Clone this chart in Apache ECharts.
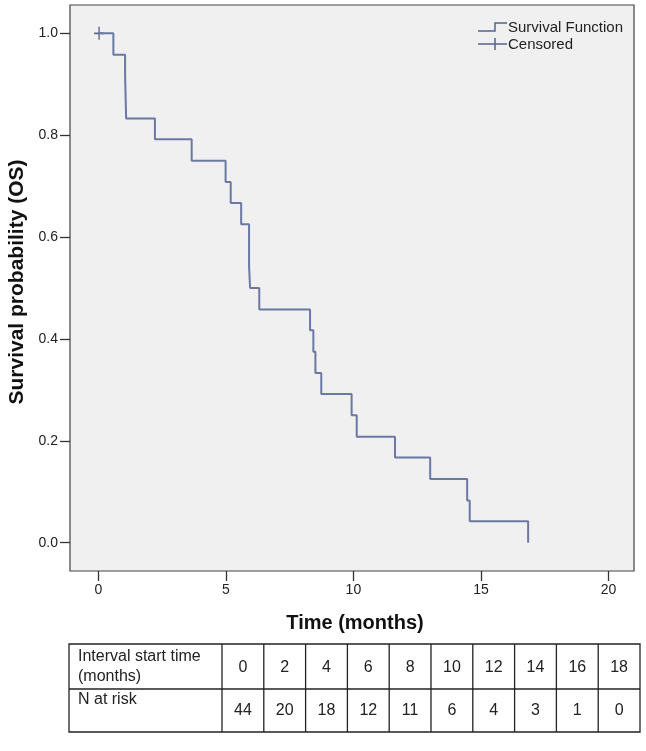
<!DOCTYPE html>
<html>
<head>
<meta charset="utf-8">
<script src="https://cdn.jsdelivr.net/npm/echarts@6/dist/echarts.min.js"></script>
<style>
html,body{margin:0;padding:0;background:#fff;}
#c{width:646px;height:751px;}
</style>
</head>
<body>
<div id="c"></div>
<script>
// Kaplan-Meier step points: event times (months) and survival after each event
const eventTimes = [0, 0.59, 1.05, 1.09, 2.22, 3.66, 4.99, 5.19, 5.60, 5.91, 5.95, 6.31, 8.30, 8.43, 8.51, 8.74, 9.93, 10.13, 11.63, 13.01, 14.46, 14.56, 16.85];
const survival   = [1.0, 0.958, 0.917, 0.833, 0.792, 0.750, 0.708, 0.667, 0.625, 0.542, 0.500, 0.458, 0.417, 0.375, 0.333, 0.292, 0.250, 0.208, 0.167, 0.125, 0.083, 0.042, 0.0];
const censoredTimes = [0.03];
const censoredSurv  = [1.0];
const xTicks = [0, 5, 10, 15, 20];
const yTicks = [0, 0.2, 0.4, 0.6, 0.8, 1.0];
const intervalStart = [0, 2, 4, 6, 8, 10, 12, 14, 16, 18];
const nAtRisk = [44, 20, 18, 12, 11, 6, 4, 3, 1, 0];

const chart = echarts.init(document.getElementById('c'));
const FONT = 'Liberation Sans, Arial, sans-serif';

// table graphics
const tbl = {left: 69, top: 644, right: 640, bottom: 732, mid: 689, firstCol: 222};
const colW = (tbl.right - tbl.firstCol) / intervalStart.length;
const g = [];
const lineStyle = {stroke: '#222', lineWidth: 1.3};
const tf = '16px ' + FONT;
g.push({type: 'rect', shape: {x: tbl.left, y: tbl.top, width: tbl.right - tbl.left, height: tbl.bottom - tbl.top}, style: {fill: 'none', stroke: '#222', lineWidth: 1.3}});
g.push({type: 'line', shape: {x1: tbl.left, y1: tbl.mid, x2: tbl.right, y2: tbl.mid}, style: lineStyle});
for (let i = 0; i < intervalStart.length; i++) {
  const x = tbl.firstCol + i * colW;
  g.push({type: 'line', shape: {x1: x, y1: tbl.top, x2: x, y2: tbl.bottom}, style: lineStyle});
  const cx = x + colW / 2;
  g.push({type: 'text', x: cx, y: 668, style: {text: String(intervalStart[i]), font: tf, fill: '#222', align: 'center', verticalAlign: 'middle'}});
  g.push({type: 'text', x: cx, y: 711, style: {text: String(nAtRisk[i]), font: tf, fill: '#222', align: 'center', verticalAlign: 'middle'}});
}
g.push({type: 'text', x: 78, y: 657, style: {text: 'Interval start time', font: tf, fill: '#222', verticalAlign: 'middle'}});
g.push({type: 'text', x: 78, y: 677, style: {text: '(months)', font: tf, fill: '#222', verticalAlign: 'middle'}});
g.push({type: 'text', x: 78, y: 700, style: {text: 'N at risk', font: tf, fill: '#222', verticalAlign: 'middle'}});

// legend
const lc = '#55648f';
g.push({type: 'polyline', shape: {points: [[478, 31], [495, 31], [495, 23], [507, 23]]}, style: {stroke: lc, lineWidth: 1.5, fill: 'none'}});
g.push({type: 'line', shape: {x1: 478, y1: 44, x2: 507, y2: 44}, style: {stroke: lc, lineWidth: 1.5}});
g.push({type: 'line', shape: {x1: 495, y1: 38, x2: 495, y2: 50}, style: {stroke: lc, lineWidth: 1.5}});
g.push({type: 'text', x: 508, y: 28, style: {text: 'Survival Function', font: '15px ' + FONT, fill: '#222', verticalAlign: 'middle'}});
g.push({type: 'text', x: 508, y: 45, style: {text: 'Censored', font: '15px ' + FONT, fill: '#222', verticalAlign: 'middle'}});

chart.setOption({
  animation: false,
  backgroundColor: '#fff',
  grid: {left: 70, top: 5, right: 12, bottom: 180, show: true, backgroundColor: '#f0f0f0', borderColor: '#444', borderWidth: 1.2, outerBoundsMode: 'none', containLabel: false},
  xAxis: {
    type: 'value', min: -1.11, max: 21, position: 'bottom',
    name: 'Time (months)', nameLocation: 'middle', nameGap: 42,
    nameTextStyle: {fontFamily: FONT, fontWeight: 'bold', fontSize: 20, color: '#111', padding: [0, 0, 0, 6]},
    axisLine: {show: false, onZero: false}, splitLine: {show: false},
    axisTick: {show: true, length: 10, lineStyle: {color: '#333', width: 1.3}, customValues: xTicks},
    axisLabel: {margin: 12, fontFamily: FONT, fontSize: 14, color: '#222', customValues: xTicks, formatter: v => String(v)}
  },
  yAxis: {
    type: 'value', min: -0.0556, max: 1.0556, position: 'left',
    name: 'Survival probability (OS)', nameLocation: 'middle', nameGap: 42,
    nameTextStyle: {fontFamily: FONT, fontWeight: 'bold', fontSize: 21, color: '#111', padding: [0, 0, 0, 12]},
    axisLine: {show: false, onZero: false}, splitLine: {show: false},
    axisTick: {show: true, length: 10, lineStyle: {color: '#333', width: 1.3}, customValues: yTicks},
    axisLabel: {margin: 12, fontFamily: FONT, fontSize: 14, color: '#222', customValues: yTicks, formatter: v => v.toFixed(1)}
  },
  series: [
    {
      type: 'line', step: 'end', symbol: 'none',
      data: eventTimes.map((t, i) => [t, survival[i]]),
      lineStyle: {color: '#6b78a3', width: 2}
    },
    {
      type: 'scatter',
      data: censoredTimes.map((t, i) => [t, censoredSurv[i]]),
      symbol: 'path://M5,0 L5,13 M0,6.5 L10,6.5', symbolSize: [10, 13],
      itemStyle: {color: 'none', borderColor: '#3b4a80', borderWidth: 1.6}
    }
  ],
  graphic: g
});
</script>
</body>
</html>
